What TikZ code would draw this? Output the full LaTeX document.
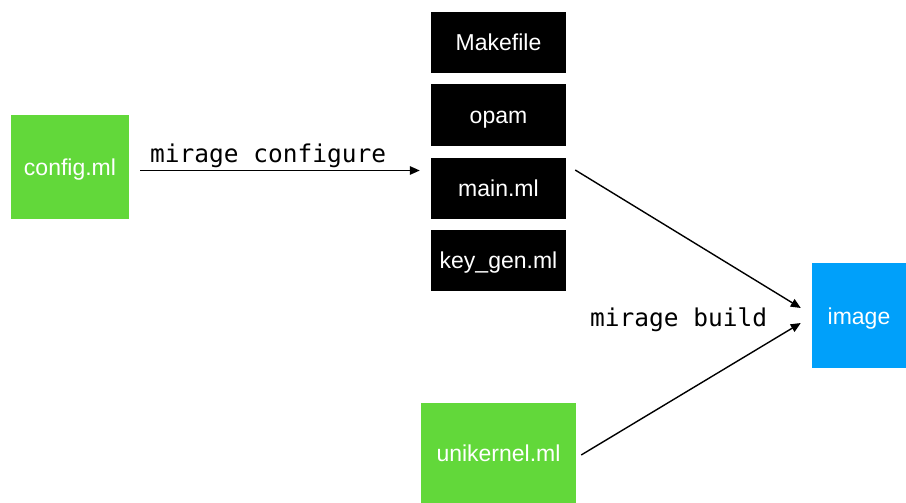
\documentclass[tikz,border=0pt]{standalone}
\usepackage{fontspec}
\setmainfont{Liberation Sans}
\newfontfamily\codefont{DejaVu Sans Mono}
\usetikzlibrary{arrows.meta,calc}
\definecolor{mlgreen}{RGB}{98,216,58}
\definecolor{imgblue}{RGB}{0,160,250}
\tikzset{
  filebox/.style={draw=none, inner sep=0pt, text=white,
    font=\fontsize{23}{26}\selectfont, text height=17pt, text depth=0pt,
    anchor=center},
  genbox/.style={filebox, fill=black, minimum width=135pt, minimum height=61pt},
  cmd/.style={font=\codefont\fontsize{24.5}{28}\selectfont, inner sep=0pt},
  arr/.style={-{Triangle[length=10pt,width=8.5pt]}, line width=1.4pt, black}
}
\begin{document}
\begin{tikzpicture}[x=1pt,y=-1pt]
  \useasboundingbox (0,0) rectangle (906,503);

  % sources
  \node[filebox, fill=mlgreen, minimum width=118pt, minimum height=104pt] (config) at (70,167) {config.ml};
  \node[filebox, fill=mlgreen, minimum width=155pt, minimum height=100pt] (unik) at (498.5,453) {unikernel.ml};

  % generated files
  \node[genbox] (make) at (498.5,42.5) {Makefile};
  \node[genbox] (opam) at (498.5,115) {opam};
  \node[genbox] (main) at (498.5,188) {main.ml};
  \node[genbox] (keygen) at (498.5,260) {key\_gen.ml};

  % result
  \node[filebox, fill=imgblue, minimum width=94pt, minimum height=105pt] (image) at (859,315.5) {image};

  % commands
  \draw[arr] ($(config.east)+(11,3.5)$) -- ($(main.west)+(-11,-17.5)$);
  \node[cmd, anchor=base west] (conf) at (150,162) {mirage configure};

  \draw[arr] ($(main.east)+(9,-18)$) -- ($(image.west)+(-11,-7.5)$);
  \draw[arr] ($(unik.east)+(5,2)$) -- ($(image.west)+(-11,7.5)$);
  \node[cmd, anchor=base west] (build) at (590,326) {mirage build};
\end{tikzpicture}
\end{document}
